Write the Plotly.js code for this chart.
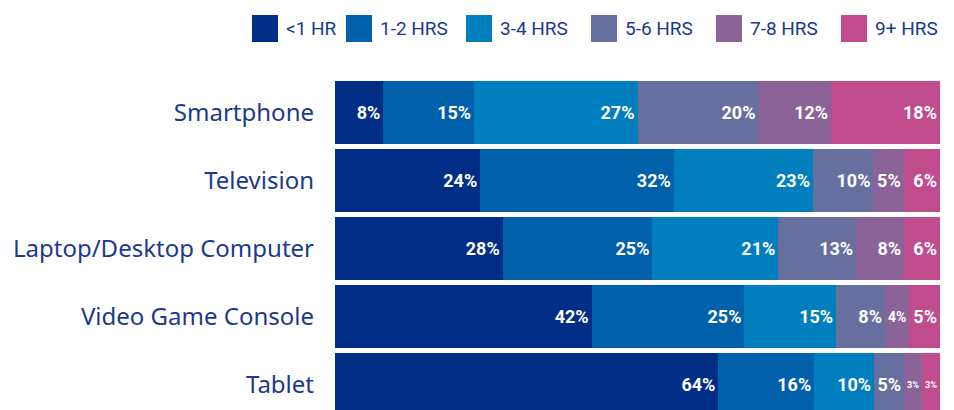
<!DOCTYPE html>
<html>
<head>
<meta charset="utf-8">
<script src="https://cdn.plot.ly/plotly-3.0.1.min.js"></script>
<style>html,body{margin:0;padding:0;background:#fff;}#chart{width:954px;height:410px;}</style>
</head>
<body>
<div id="chart"></div>
<script>
// ---- data ----
const categories = ['Smartphone', 'Television', 'Laptop/Desktop Computer', 'Video Game Console', 'Tablet'];
const seriesNames = ['<1 HR', '1-2 HRS', '3-4 HRS', '5-6 HRS', '7-8 HRS', '9+ HRS'];
const lessThan1 = [8, 24, 28, 42, 64];
const hrs1to2   = [15, 32, 25, 25, 16];
const hrs3to4   = [27, 23, 21, 15, 10];
const hrs5to6   = [20, 10, 13, 8, 5];
const hrs7to8   = [12, 5, 8, 4, 3];
const hrs9plus  = [18, 6, 6, 5, 3];

// ---- styles ----
const colors = ['#002E87', '#0060A9', '#007EBE', '#676F9F', '#8B6399', '#C04B8D'];
const navy = '#1B3A8C';
const seriesValues = [lessThan1, hrs1to2, hrs3to4, hrs5to6, hrs7to8, hrs9plus];

const traces = seriesValues.map((vals, i) => ({
  type: 'bar',
  orientation: 'h',
  name: seriesNames[i],
  y: categories,
  x: vals,
  text: vals.map(v => v + '%'),
  texttemplate: '%{text}',
  textposition: 'inside',
  insidetextanchor: 'end',
  textangle: 0,
  constraintext: 'inside',
  insidetextfont: {family: 'Roboto, sans-serif', size: 18, color: '#ffffff', weight: 'bold'},
  marker: {color: colors[i], line: {width: 0}},
  hoverinfo: 'none',
  showlegend: false
}));

// custom legend (large square swatches)
const L = 335, W = 605, T = 70, H = 340;
const px2x = p => (p - L) / W;
const py2y = p => (T + H - p) / H;
const swatchX = [252, 346, 466, 591, 716, 841];
const shapes = [], annotations = [];
seriesNames.forEach((n, i) => {
  shapes.push({type: 'rect', xref: 'paper', yref: 'paper',
    x0: px2x(swatchX[i]), x1: px2x(swatchX[i] + 26), y0: py2y(42), y1: py2y(15),
    fillcolor: colors[i], line: {width: 0}});
  annotations.push({xref: 'paper', yref: 'paper', x: px2x(swatchX[i] + 32), y: py2y(28.5),
    xanchor: 'left', yanchor: 'middle', showarrow: false, text: n,
    font: {family: 'Roboto, sans-serif', size: 19, color: navy}});
});

const layout = {
  width: 954, height: 410,
  margin: {l: L, r: 954 - L - W, t: T, b: 0, pad: 0},
  paper_bgcolor: '#ffffff', plot_bgcolor: '#ffffff',
  barmode: 'stack',
  barnorm: 'percent',
  bargap: 0.074,
  showlegend: false,
  xaxis: {range: [0, 100], visible: false, fixedrange: true},
  yaxis: {type: 'category', range: [4.375, -0.625], showgrid: false, zeroline: false,
    showline: false, ticks: '', ticklabelstandoff: 20,
    tickfont: {family: '"Noto Sans", sans-serif', size: 24, color: navy}},
  shapes: shapes,
  annotations: annotations
};

Plotly.newPlot('chart', traces, layout, {displayModeBar: false, staticPlot: true});
</script>
</body>
</html>
